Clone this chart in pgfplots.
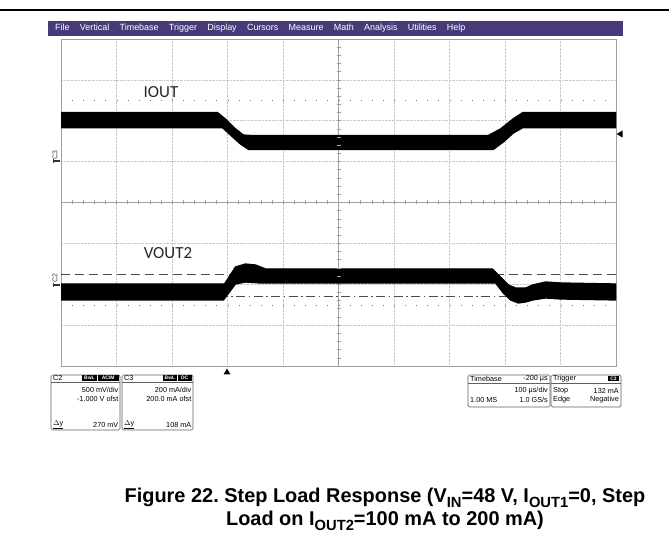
\documentclass[border=0pt]{standalone}
\usepackage{pgfplots}
\pgfplotsset{compat=1.18}
\usepackage{fontspec}
\setmainfont{Liberation Sans}
\newfontfamily\calib{Carlito}
\frenchspacing
\definecolor{menupurple}{RGB}{72,58,120}
\definecolor{gridc}{RGB}{200,200,200}
\definecolor{framec}{RGB}{160,160,160}
\newcommand\sub[1]{\raisebox{-0.28em}{\fontsize{14.8}{14.8}\selectfont #1}}
\begin{document}
\begin{tikzpicture}[x=1bp,y=1bp]
\path[use as bounding box] (0,0) rectangle (669,550);
% top rule and menu bar
\draw[line width=1.6bp] (0,540) -- (669,540);
\fill[menupurple] (48,529) rectangle (623,514);
\node[anchor=west, inner sep=0pt, text=white, font=\fontsize{9}{10}\selectfont] at (55,522)
 {File\hspace{10.3bp}Vertical\hspace{10.3bp}Timebase\hspace{10.3bp}Trigger\hspace{10.3bp}Display\hspace{10.3bp}Cursors\hspace{10.3bp}Measure\hspace{10.3bp}Math\hspace{10.3bp}Analysis\hspace{10.3bp}Utilities\hspace{10.3bp}Help};
% scope screen
\begin{axis}[at={(61bp,184bp)}, anchor=south west, scale only axis,
  width=555bp, height=327bp,
  xmin=-300, xmax=700, ymin=-4, ymax=4,
  xtick={-300,-200,...,700}, ytick={-4,-3,...,4},
  xticklabels={}, yticklabels={}, major tick length=0pt,
  grid=major, major grid style={gridc, densely dotted, line width=0.6bp},
  axis line style={framec, line width=0.8bp}]
% center lines
\addplot[gridc!80!black, line width=0.6bp] coordinates {(-300,0) (700,0)};
\addplot[gridc!80!black, line width=0.6bp] coordinates {(200,-4) (200,4)};
% dotted reference lines
\addplot[black!55, line width=0.9bp, dash pattern=on 0.9bp off 10.2bp] coordinates {(-300,2.508) (700,2.508)};
\addplot[black!55, line width=0.9bp, dash pattern=on 0.9bp off 10.2bp] coordinates {(-300,-2.508) (700,-2.508)};
% cursors on VOUT2
\addplot[black!70, line width=0.9bp, dash pattern=on 9bp off 5bp] coordinates {(-300,-1.749) (700,-1.749)};
\addplot[black!70, line width=0.9bp, dash pattern=on 9bp off 3.5bp on 1.5bp off 3.5bp] coordinates {(-300,-2.287) (700,-2.287)};
% IOUT trace (noise band envelope)
\addplot[fill=black, draw=black, line width=1.3bp] coordinates {
 (-300,2.20) (-18,2.20) (-3.6,2.04) (14.4,1.80) (28.8,1.65) (41.4,1.64) (470,1.64) (492,1.80) (514,2.04) (532,2.20) (700,2.20)
 (700,1.83) (532,1.83) (515,1.70) (497,1.48) (479,1.30) (50.5,1.30) (37.8,1.30) (23.4,1.43) (5.4,1.65) (-9,1.83) (-300,1.83)} -- cycle;
% VOUT2 trace (noise band envelope)
\addplot[fill=black, draw=black, line width=1.3bp] coordinates {
 (-300,-1.994) (-5.4,-1.994) (14.4,-1.578) (32.4,-1.505) (50.5,-1.529) (68.5,-1.627) (477.5,-1.627) (492,-1.823) (506,-2.018) (519,-2.092) (537,-2.092) (550,-2.018) (573,-1.945) (600,-1.969) (700,-1.994)
 (700,-2.385) (600,-2.361) (573,-2.336) (550,-2.385) (537,-2.434) (524,-2.459) (510,-2.385) (497,-2.214) (483,-1.97) (59.5,-1.97) (32.4,-1.945) (14.4,-1.994) (-7.2,-2.385) (-300,-2.385)} -- cycle;
\end{axis}
% ticks on center lines
\foreach \i in {1,...,49} {\draw[gridc!80!black, line width=0.6bp] (61+11.1*\i,345.5) -- (61+11.1*\i,349.5);}
\foreach \i in {1,...,39} {\draw[gridc!80!black, line width=0.6bp] (336.5,184+8.175*\i) -- (340.5,184+8.175*\i);}
% trace labels
\node[font=\calib\fontsize{17}{17}\selectfont, text=black!85] at (161,458) {IOUT};
\node[font=\calib\fontsize{17}{17}\selectfont, text=black!85] at (168,297) {VOUT2};
% channel markers
\node[rotate=90, font=\fontsize{7}{7}\selectfont, text=black!75, inner sep=0pt] at (55,395) {C3};
\draw[line width=1.5bp, black!80] (53,389) -- (60,389);
\draw[line width=0.8bp, black!80] (53.4,387) -- (53.4,391);
\node[rotate=90, font=\fontsize{7}{7}\selectfont, text=black!75, inner sep=0pt] at (55,272) {C2};
\draw[line width=1.5bp, black!80] (53,265) -- (60,265);
\draw[line width=0.8bp, black!80] (53.4,263) -- (53.4,267);
% trigger markers
\fill (223.5,175.5) -- (230.5,175.5) -- (227,181.5) -- cycle;
\fill (616.5,416) -- (622.5,419.5) -- (622.5,412.5) -- cycle;
% info boxes
\begin{scope}[every node/.style={inner sep=0pt, font=\fontsize{7.3}{8}\selectfont}]
% C2
\draw[framec!60!black, line width=0.7bp, rounded corners=1.5bp] (51,175) rectangle (120,120);
\draw[framec!60!black, line width=0.5bp] (51,168) -- (120,168);
\node[anchor=west] at (53,171.5) {C2};
\fill[black] (82,169) rectangle (97,174.5);
\fill[black] (98,169) rectangle (118.5,174.5);
\node[text=white, font=\fontsize{5}{5}\selectfont\bfseries] at (89.5,171.8) {BwL};
\node[text=white, font=\fontsize{5}{5}\selectfont\bfseries] at (108.2,171.8) {ACIM};
\node[anchor=east] at (118.5,160) {500 mV/div};
\node[anchor=east] at (118.5,151) {-1.000 V ofst};
\node[anchor=west] at (53,125) {\underline{$\Delta$y}};
\node[anchor=east] at (118.5,125) {270 mV};
% C3
\draw[framec!60!black, line width=0.7bp, rounded corners=1.5bp] (122,175) rectangle (193,120);
\draw[framec!60!black, line width=0.5bp] (122,168) -- (193,168);
\node[anchor=west] at (124,171.5) {C3};
\fill[black] (163,169) rectangle (177,174.5);
\fill[black] (178,169) rectangle (191.5,174.5);
\node[text=white, font=\fontsize{5}{5}\selectfont\bfseries] at (170,171.8) {BwL};
\node[text=white, font=\fontsize{5}{5}\selectfont\bfseries] at (184.7,171.8) {DC};
\node[anchor=east] at (191.5,160) {200 mA/div};
\node[anchor=east] at (191.5,151) {200.0 mA ofst};
\node[anchor=west] at (124,125) {\underline{$\Delta$y}};
\node[anchor=east] at (191.5,125) {108 mA};
% Timebase
\draw[framec!60!black, line width=0.7bp, rounded corners=1.5bp] (468,175) rectangle (550,143);
\draw[framec!60!black, line width=0.5bp] (468,167) -- (550,167);
\node[anchor=west] at (470,171) {Timebase};
\node[anchor=east] at (548,171) {-200 µs};
\node[anchor=east] at (548,159) {100 µs/div};
\node[anchor=west] at (470,150) {1.00 MS};
\node[anchor=east] at (548,150) {1.0 GS/s};
% Trigger
\draw[framec!60!black, line width=0.7bp, rounded corners=1.5bp] (551,175) rectangle (621,143);
\draw[framec!60!black, line width=0.5bp] (551,167) -- (621,167);
\node[anchor=west] at (553,171) {Trigger};
\fill[black] (608,168.5) rectangle (619,174);
\node[text=white, font=\fontsize{5}{5}\selectfont\bfseries] at (613.5,171.2) {C3};
\node[anchor=west] at (553,159) {Stop};
\node[anchor=east] at (619,159) {132 mA};
\node[anchor=west] at (553,150) {Edge};
\node[anchor=east] at (619,150) {Negative};
\end{scope}
% caption
\node[font=\bfseries\fontsize{20}{23}\selectfont, align=center, inner sep=0pt] at (385,40.5)
 {Figure 22. Step Load Response (V\sub{IN}=48 V, I\sub{OUT1}=0, Step\\
  Load on I\sub{OUT2}=100 mA to 200 mA)};
\end{tikzpicture}
\end{document}
